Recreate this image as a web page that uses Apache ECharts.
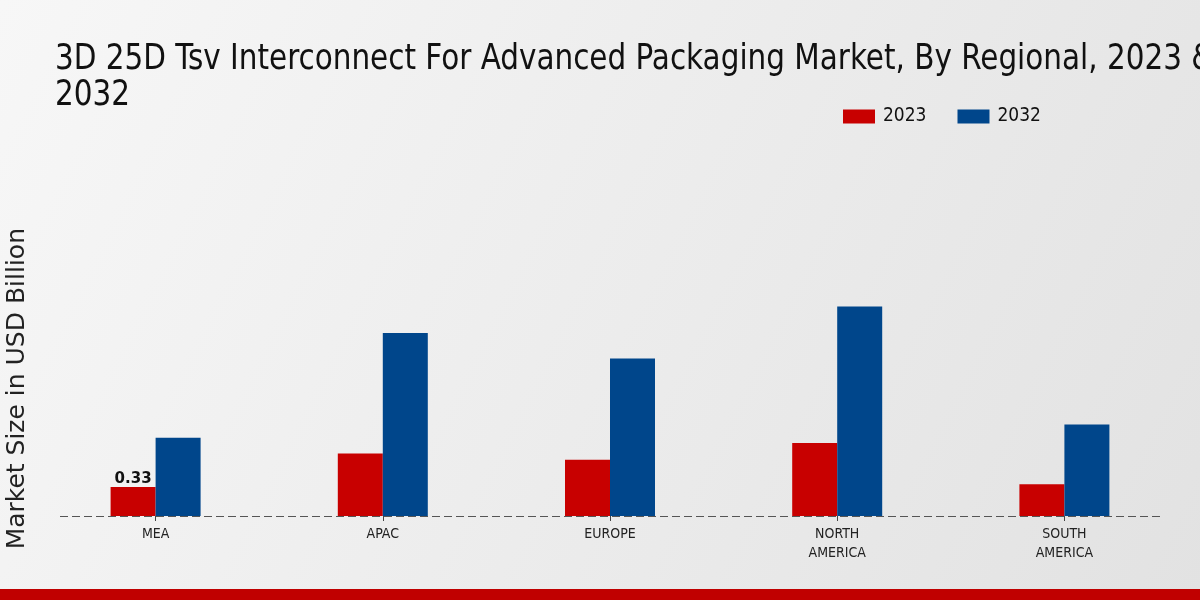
<!DOCTYPE html>
<html>
<head>
<meta charset="utf-8">
<script src="https://cdn.jsdelivr.net/npm/echarts@6/dist/echarts.min.js"></script>
<style>
  html, body { margin: 0; padding: 0; }
  #chart { width: 1200px; height: 600px; }
</style>
</head>
<body>
<div id="chart"></div>
<script>
// 区域分类与数值（十亿美元）
const regions = ['MEA', 'APAC', 'EUROPE', 'NORTH\nAMERICA', 'SOUTH\nAMERICA']
const values2023 = [0.33, 0.71, 0.64, 0.83, 0.36]
const values2032 = [0.89, 2.08, 1.79, 2.38, 1.04]
const seriesNames = ['2023', '2032']

const narrowFont = "'DejaVu Sans Condensed', 'DejaVu Sans', sans-serif"
const wideFont = "'DejaVu Sans', sans-serif"

const chart = echarts.init(document.getElementById('chart'))

chart.setOption({
  backgroundColor: new echarts.graphic.LinearGradient(0, 0, 1, 1, [
    { offset: 0, color: '#f7f7f7' },
    { offset: 1, color: '#e2e2e2' }
  ]),
  legend: {
    data: seriesNames,
    left: 838,
    top: 102,
    itemWidth: 32,
    itemHeight: 14,
    itemGap: 31,
    icon: 'rect',
    textStyle: { fontFamily: narrowFont, fontSize: 19, color: '#111', padding: [0, 0, 0, 3] }
  },
  grid: { left: 42, right: 22, top: 296, bottom: 84 },
  xAxis: {
    type: 'category',
    data: regions,
    axisLine: { show: false },
    axisTick: { show: true, alignWithLabel: true, length: 5, lineStyle: { color: '#444' } },
    axisLabel: { fontFamily: narrowFont, fontSize: 14, color: '#222', lineHeight: 19, margin: 9 }
  },
  yAxis: {
    type: 'value',
    min: 0,
    max: 2.5,
    show: false
  },
  graphic: [
    {
      // 标题（字形偏窄偏高）
      type: 'text',
      left: 55,
      top: 42,
      scaleX: 0.91,
      style: {
        text: '3D 25D Tsv Interconnect For Advanced Packaging Market, By Regional, 2023 &\n2032',
        fontFamily: narrowFont,
        fontSize: 36,
        lineHeight: 36,
        fill: '#111'
      }
    },
    {
      type: 'text',
      left: 5,
      top: 228,
      rotation: Math.PI / 2,
      style: {
        text: 'Market Size in USD Billion',
        fontFamily: wideFont,
        fontSize: 25,
        fill: '#222'
      }
    },
    {
      // 虚线基线
      type: 'line',
      shape: { x1: 60, y1: 516.5, x2: 1160, y2: 516.5 },
      style: { stroke: '#555', lineWidth: 1, lineDash: [8, 4] },
      z: 10
    },
    {
      type: 'rect',
      left: 0,
      bottom: 0,
      shape: { width: 1200, height: 11 },
      style: { fill: '#c00000' }
    }
  ],
  series: [
    {
      name: seriesNames[0],
      type: 'bar',
      data: values2023.map((v, i) => i === 0
        ? { value: v, label: { show: true, position: 'top', distance: 0, fontFamily: wideFont, fontSize: 15, fontWeight: 'bold', color: '#111' } }
        : v),
      barWidth: 45,
      barGap: '0%',
      itemStyle: { color: '#c80000' }
    },
    {
      name: seriesNames[1],
      type: 'bar',
      data: values2032,
      barWidth: 45,
      itemStyle: { color: '#00468b' }
    }
  ]
})
</script>
</body>
</html>
